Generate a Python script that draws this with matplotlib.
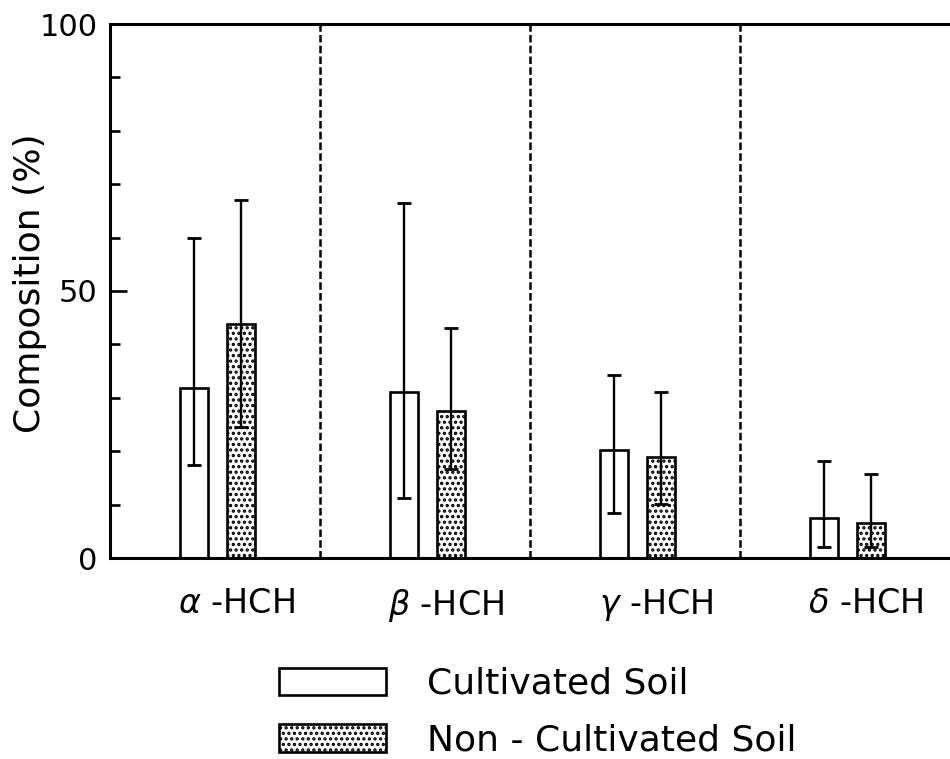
import matplotlib
matplotlib.use("Agg")
import matplotlib.pyplot as plt
import numpy as np

plt.rcParams['font.family'] = ['DejaVu Sans']
plt.rcParams['hatch.linewidth'] = 1.6

categories = [r'$\alpha$ -HCH', r'$\beta$ -HCH', r'$\gamma$ -HCH', r'$\delta$ -HCH']
cultivated = [31.8, 31.0, 20.2, 7.4]
cultivated_upper = [60.0, 66.5, 34.3, 18.2]
cultivated_lower = [17.4, 11.3, 8.5, 2.0]
non_cultivated = [43.9, 27.5, 19.0, 6.5]
non_cultivated_upper = [67.0, 43.0, 31.1, 15.7]
non_cultivated_lower = [24.6, 16.7, 10.1, 2.0]
series_labels = ['Cultivated Soil', 'Non - Cultivated Soil']

fig = plt.figure(figsize=(9.5, 7.59), dpi=100)
ax = fig.add_axes([110/950, 1-558/759, 1-110/950, (558-24)/759])

idx = np.arange(len(categories))
w = 0.135
xc = idx + 0.40
xn = idx + 0.625

c = np.array(cultivated); n = np.array(non_cultivated)
cu = np.array(cultivated_upper); cl = np.array(cultivated_lower)
nu = np.array(non_cultivated_upper); nl = np.array(non_cultivated_lower)

b1 = ax.bar(xc, c, w, facecolor='white', edgecolor='black', linewidth=1.9,
            label=series_labels[0], zorder=2)
b2 = ax.bar(xn, n, w, facecolor='white', edgecolor='black', linewidth=1.9,
            hatch='...', label=series_labels[1], zorder=2)
ax.errorbar(xc, c, yerr=[c - cl, cu - c], fmt='none', ecolor='black',
            elinewidth=1.7, capsize=5, capthick=2.0, zorder=3)
ax.errorbar(xn, n, yerr=[n - nl, nu - n], fmt='none', ecolor='black',
            elinewidth=1.7, capsize=5, capthick=2.0, zorder=3)

for d in idx[1:]:
    ax.axvline(d, color='black', linestyle=(0, (3, 1.3)), linewidth=1.8, zorder=1)

ax.set_xlim(0, 4)
ax.set_ylim(0, 100)
ax.set_xticks(idx + 0.6)
ax.set_xticklabels(categories, fontsize=24)
ax.tick_params(axis='x', length=0, pad=21)
ax.set_yticks([0, 50, 100])
ax.set_yticks(np.arange(10, 100, 10), minor=True)
ax.tick_params(axis='y', which='major', direction='in', length=12, width=1.9,
               labelsize=22, pad=9)
ax.tick_params(axis='y', which='minor', direction='in', length=7, width=1.9)
ax.set_ylabel('Composition (%)', fontsize=26)
ax.yaxis.set_label_coords(-0.075, 0.515)
for s in ['left', 'bottom', 'top']:
    ax.spines[s].set_linewidth(2.2)
ax.spines['right'].set_visible(False)

fig.legend(handles=[b1, b2], labels=series_labels, loc='upper left',
           bbox_to_anchor=(279/950, 1-667/759), frameon=False, fontsize=26,
           handlelength=2.96, handleheight=0.8, handletextpad=1.14,
           labelspacing=0.62, borderpad=0, borderaxespad=0)

fig.savefig('out.png', dpi=100)
